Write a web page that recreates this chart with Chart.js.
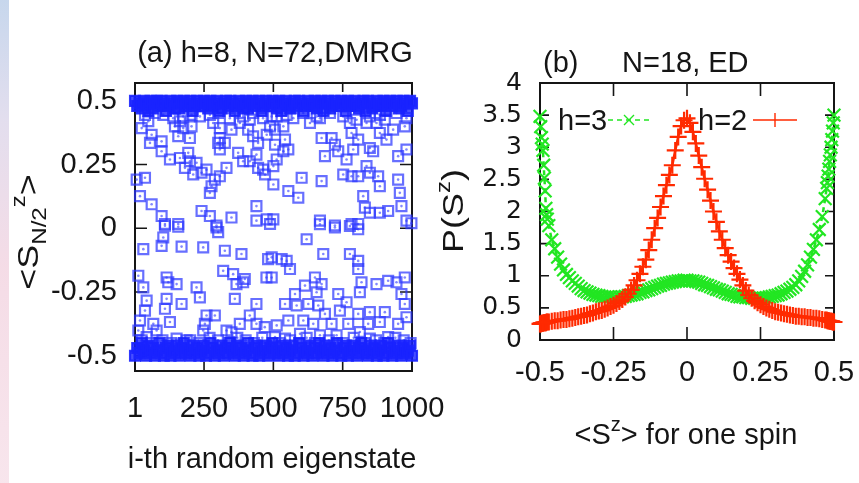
<!DOCTYPE html>
<html lang="en">
<head>
<meta charset="UTF-8">
<title>Sz distributions, DMRG and ED</title>
<script src="https://cdn.jsdelivr.net/npm/chart.js@4.4.1/dist/chart.umd.min.js"></script>
<style>
  body { margin: 0; background: #fff; }
  #wrap { position: relative; width: 859px; height: 483px; overflow: hidden; background: #fff; }
  #wrap canvas { position: absolute; top: 0; }
  #edge { position: absolute; left: 0; top: 0; width: 9px; height: 483px;
          background: linear-gradient(to bottom, #b9cde8 0%, #dcd6ea 25%, #f2d3e0 55%, #f6dfe8 100%); opacity: 0.8; }
</style>
</head>
<body>
<div id="wrap">
  <div id="edge"></div>
  <canvas id="panelA" width="470" height="483" style="left:0"></canvas>
  <canvas id="panelB" width="429" height="483" style="left:430px"></canvas>
</div>
<script>
// ---- panel (a): <S^z_{N/2}> of 1000 random eigenstates, h=8, N=72 ----
const stateTicks = [1, 250, 500, 750, 1000];
const szTicks = [-0.5, -0.25, 0, 0.25, 0.5];

// eigenstates sitting in the two saturated bands
const bandStates = [1,9,17,25,33,41,49,57,65,73,81,89,97,105,113,121,129,137,145,153,161,169,177,185,193,
  201,209,217,225,233,241,249,257,265,273,281,289,297,305,313,321,329,337,345,353,361,369,377,385,393,
  401,409,417,425,433,441,449,457,465,473,481,489,497,505,513,521,529,537,545,553,561,569,577,585,593,
  601,609,617,625,633,641,649,657,665,673,681,689,697,705,713,721,729,737,745,753,761,769,777,785,793,
  801,809,817,825,833,841,849,857,865,873,881,889,897,905,913,921,929,937,945,953,961,969,977,985,993,1000];
const upperBand = [
  0.50,0.48,0.49,0.47,0.50,0.49,0.46,0.50,0.47,0.49,
  0.50,0.48,0.50,0.49,0.46,0.48,0.50,0.49,0.47,0.50,
  0.47,0.49,0.50,0.48,0.49,0.50,0.46,0.48,0.50,0.49,
  0.48,0.50,0.49,0.47,0.50,0.48,0.49,0.50,0.46,0.47,
  0.49,0.50,0.48,0.50,0.49,0.46,0.48,0.50,0.49,0.47,
  0.50,0.47,0.49,0.50,0.48,0.49,0.50,0.46,0.48,0.50,
  0.49,0.48,0.50,0.49,0.47,0.50,0.46,0.49,0.50,0.48,
  0.47,0.49,0.50,0.48,0.50,0.49,0.46,0.48,0.50,0.49,
  0.48,0.50,0.47,0.49,0.50,0.46,0.49,0.50,0.47,0.48,
  0.50,0.49,0.48,0.50,0.49,0.46,0.50,0.48,0.49,0.50,
  0.48,0.47,0.49,0.50,0.46,0.50,0.49,0.47,0.48,0.50,
  0.49,0.48,0.50,0.46,0.49,0.50,0.48,0.49,0.50,0.47,
  0.48,0.50,0.49,0.46,0.50,0.49];
const lowerBand = [
  -0.50,-0.47,-0.49,-0.45,-0.48,-0.50,-0.46,-0.49,-0.47,-0.50,
  -0.48,-0.45,-0.49,-0.50,-0.47,-0.46,-0.50,-0.48,-0.49,-0.46,
  -0.50,-0.47,-0.45,-0.49,-0.48,-0.50,-0.46,-0.49,-0.47,-0.50,
  -0.48,-0.46,-0.50,-0.49,-0.45,-0.47,-0.50,-0.48,-0.49,-0.46,
  -0.50,-0.47,-0.49,-0.45,-0.48,-0.50,-0.46,-0.49,-0.47,-0.50,
  -0.48,-0.45,-0.49,-0.50,-0.47,-0.46,-0.50,-0.48,-0.49,-0.46,
  -0.50,-0.47,-0.45,-0.49,-0.48,-0.50,-0.46,-0.49,-0.47,-0.50,
  -0.48,-0.46,-0.50,-0.49,-0.45,-0.47,-0.50,-0.48,-0.49,-0.46,
  -0.50,-0.47,-0.49,-0.45,-0.48,-0.50,-0.46,-0.49,-0.47,-0.50,
  -0.48,-0.45,-0.49,-0.50,-0.47,-0.46,-0.50,-0.48,-0.49,-0.46,
  -0.50,-0.47,-0.45,-0.49,-0.48,-0.50,-0.46,-0.49,-0.47,-0.50,
  -0.48,-0.46,-0.50,-0.49,-0.45,-0.47,-0.50,-0.48,-0.49,-0.46,
  -0.50,-0.47,-0.49,-0.48,-0.46,-0.50];

// [eigenstate, <S^z_{N/2}>] for states away from the bands
const midStates = [
  [25,.393],[61,.367],[55,.335],[97,.341],[145,.400],[175,.393],[205,.400],[199,.354],[157,.361],[307,.393],
  [307,.354],[301,.335],[349,.387],[379,.413],[409,.387],[427,.361],[445,.335],[476,.367],[488,.400],[97,.302],
  [127,.270],[163,.276],[193,.296],[199,.263],[181,.237],[223,.257],[241,.218],[259,.230],[211,.211],[307,.309],
  [325,.335],[373,.296],[391,.263],[415,.263],[439,.289],[445,.237],[463,.230],[470,.211],[331,.237],[307,.204],
  [289,.191],[277,.165],[271,.139],[7,.191],[37,.198],[19,.126],[61,.094],[97,.048],[109,.017],[157,.017],
  [241,.068],[271,.048],[295,.011],[349,.042],[439,.087],[439,.030],[476,.035],[488,.017],
  [37,.445],[73,.452],[103,.445],[139,.432],[175,.439],[205,.445],[235,.439],[271,.445],[301,.452],[343,.432],
  [391,.439],[427,.452],[463,.432],[494,.439],[49,.420],[163,.420],[283,.413],[415,.426],
  [506,.387],[506,.328],[536,.400],[542,.348],[536,.302],[554,.309],[512,.270],[500,.244],[572,.432],[632,.413],
  [668,.432],[674,.354],[686,.283],[710,.354],[722,.328],[734,.302],[764,.270],[776,.413],[782,.374],[806,.348],
  [788,.309],[836,.413],[848,.315],[860,.302],[872,.413],[884,.374],[902,.426],[908,.348],[932,.387],[950,.283],
  [980,.309],[974,.400],[836,.244],[752,.211],[782,.204],[806,.204],[848,.218],[878,.204],[884,.165],[950,.191],
  [956,.139],[962,.087],[824,.126],[830,.081],[848,.061],[884,.061],[914,.068],[602,.198],[674,.185],[500,.172],
  [554,.146],[590,.120],[668,.030],[722,.011],[782,.017],[806,.017],[500,.035],[980,.030],[998,.020],
  [512,.439],[548,.445],[608,.452],[656,.439],[704,.452],[752,.439],[800,.426],[848,.439],[884,.445],[944,.452],[980,.432],
  [109,.010],[157,.006],[103,-.036],[97,-.069],[31,-.082],[169,-.072],[247,-.075],[295,.003],[301,-.015],[325,-.088],
  [385,-.101],[481,-.121],[13,-.186],[31,-.232],[115,-.193],[121,-.212],[151,-.219],[223,-.232],[235,-.271],[169,-.297],
  [319,-.167],[355,-.180],[367,-.219],[397,-.199],[391,-.212],[475,-.193],[361,-.277],[439,-.297],[43,-.284],[37,-.323],
  [115,-.277],[109,-.316],[127,-.368],[259,-.342],[289,-.342],[253,-.375],[247,-.401],[331,-.401],[349,-.408],[379,-.375],
  [415,-.342],[439,-.375],[469,-.388],[19,-.362],[67,-.375],[79,-.401],[151,-.433],[187,-.440],[13,-.401],[43,-.427],
  [668,.016],[722,.003],[776,.009],[806,-.004],[620,-.043],[680,-.101],[776,-.101],[806,-.128],[494,-.114],[530,-.121],
  [548,-.128],[560,-.160],[494,-.193],[614,-.225],[650,-.193],[674,-.219],[656,-.251],[806,-.160],[818,-.212],[812,-.251],
  [872,-.219],[914,-.206],[944,-.212],[974,-.193],[962,-.258],[974,-.297],[578,-.258],[542,-.297],[584,-.303],[626,-.297],
  [662,-.303],[734,-.258],[764,-.290],[740,-.323],[686,-.336],[806,-.336],[848,-.329],[902,-.329],[950,-.375],[980,-.349],
  [512,-.381],[554,-.362],[608,-.362],[644,-.375],[710,-.375],[770,-.375],[812,-.407],[842,-.375],[884,-.368],[506,-.427],
  [542,-.433],[596,-.414],[668,-.420],[728,-.420],[848,-.433],[914,-.427],
  [25,-.44],[61,-.45],[100,-.44],[130,-.45],[200,-.44],[230,-.45],[270,-.43],[300,-.44],[340,-.45],[370,-.43],
  [400,-.44],[430,-.45],[460,-.43],[520,-.45],[560,-.44],[620,-.43],[650,-.45],[700,-.44],[750,-.45],[790,-.43],
  [830,-.45],[870,-.44],[900,-.45],[940,-.43],[970,-.44],[995,-.45]];

// ---- panel (b): single-spin <S^z> distribution, N=18, ED ----
const spinTicks = [-0.5, -0.25, 0, 0.25, 0.5];
const probTicks = [0, 0.5, 1, 1.5, 2, 2.5, 3, 3.5, 4];
const spinBins = [-0.50,-0.4975,-0.495,-0.4925,-0.49,-0.4875,-0.485,-0.4825,-0.48,-0.4775,-0.475,
  -0.47,-0.46,-0.45,-0.44,-0.43,-0.42,-0.41,
  -0.40,-0.39,-0.38,-0.37,-0.36,-0.35,-0.34,-0.33,-0.32,-0.31,
  -0.30,-0.29,-0.28,-0.27,-0.26,-0.25,-0.24,-0.23,-0.22,-0.21,
  -0.20,-0.19,-0.18,-0.17,-0.16,-0.15,-0.14,-0.13,-0.12,-0.11,
  -0.10,-0.09,-0.08,-0.07,-0.06,-0.05,-0.04,-0.03,-0.02,-0.01,
  0.00,0.01,0.02,0.03,0.04,0.05,0.06,0.07,0.08,0.09,
  0.10,0.11,0.12,0.13,0.14,0.15,0.16,0.17,0.18,0.19,
  0.20,0.21,0.22,0.23,0.24,0.25,0.26,0.27,0.28,0.29,
  0.30,0.31,0.32,0.33,0.34,0.35,0.36,0.37,0.38,0.39,
  0.40,0.41,0.42,0.43,0.44,0.45,0.46,0.47,
  0.475,0.4775,0.48,0.4825,0.485,0.4875,0.49,0.4925,0.495,0.4975,0.50];
const probH2 = [0.25,0.25,0.26,0.26,0.26,0.27,0.27,0.27,0.27,0.28,0.28,
  0.28,0.29,0.30,0.30,0.31,0.32,0.32,
  0.33,0.34,0.35,0.36,0.37,0.38,0.39,0.41,0.42,0.44,
  0.45,0.46,0.48,0.50,0.52,0.54,0.57,0.60,0.63,0.67,
  0.72,0.78,0.85,0.93,1.03,1.14,1.25,1.40,1.56,1.74,
  1.90,2.07,2.24,2.41,2.57,2.72,2.95,3.16,3.33,3.42,
  3.45,3.38,3.24,3.06,2.87,2.69,2.51,2.34,2.17,2.00,
  1.84,1.69,1.56,1.43,1.32,1.22,1.12,1.03,0.94,0.85,
  0.77,0.70,0.65,0.61,0.58,0.55,0.52,0.50,0.48,0.46,
  0.44,0.43,0.42,0.41,0.40,0.39,0.38,0.37,0.37,0.36,
  0.36,0.35,0.35,0.34,0.34,0.33,0.32,0.31,
  0.31,0.30,0.30,0.30,0.29,0.29,0.29,0.29,0.28,0.28,0.28];
const probH3 = [3.48,3.32,3.15,3.05,2.95,2.72,2.52,2.32,2.05,1.95,1.88,
  1.78,1.56,1.42,1.29,1.18,1.09,1.02,
  0.97,0.92,0.88,0.84,0.80,0.77,0.75,0.73,0.71,0.70,
  0.69,0.68,0.67,0.67,0.67,0.66,0.66,0.67,0.67,0.68,
  0.69,0.70,0.71,0.72,0.74,0.75,0.77,0.78,0.80,0.82,
  0.84,0.85,0.87,0.88,0.89,0.90,0.91,0.92,0.92,0.93,
  0.93,0.92,0.92,0.91,0.90,0.88,0.86,0.85,0.83,0.81,
  0.79,0.78,0.76,0.74,0.72,0.71,0.70,0.68,0.67,0.67,
  0.66,0.66,0.65,0.65,0.65,0.65,0.65,0.66,0.67,0.68,
  0.69,0.70,0.72,0.74,0.76,0.79,0.82,0.86,0.92,0.99,
  1.07,1.17,1.29,1.41,1.56,1.72,1.92,2.20,
  2.36,2.45,2.55,2.66,2.78,2.88,3.00,3.12,3.25,3.38,3.50];

const INK = '#151515';
const FONT = 'Liberation Sans';
const BLUE = 'rgba(25,35,255,0.9)';
const RED = '#ff2a00';
const GREEN = '#22e622';

Chart.defaults.font.family = FONT;
Chart.defaults.color = INK;

// text runs: [string, size, baseline shift]
function richText(ctx, parts, x, y, align) {
  let w = 0;
  parts.forEach(p => { ctx.font = p[1] + 'px "' + FONT + '"'; w += ctx.measureText(p[0]).width; });
  let cx = align === 'center' ? x - w / 2 : x;
  parts.forEach(p => {
    ctx.font = p[1] + 'px "' + FONT + '"';
    ctx.fillText(p[0], cx, y + p[2]);
    cx += ctx.measureText(p[0]).width;
  });
}

function rotatedText(ctx, parts, x, y, stretch) {
  ctx.save();
  ctx.translate(x, y);
  ctx.rotate(-Math.PI / 2);
  ctx.scale(stretch, 1);
  richText(ctx, parts, 0, 0, 'center');
  ctx.restore();
}

// gnuplot-style box with inward ticks on all four sides
function boxPlugin(xLen, yLen) {
  return {
    id: 'box',
    beforeDatasetsDraw(chart) {
      const { ctx, chartArea: a, scales } = chart;
      ctx.save();
      ctx.strokeStyle = INK;
      ctx.lineWidth = 2;
      ctx.strokeRect(a.left, a.top, a.right - a.left, a.bottom - a.top);
      ctx.lineWidth = 1.6;
      ctx.beginPath();
      scales.x.ticks.forEach(t => {
        const px = scales.x.getPixelForValue(t.value);
        if (px < a.left + 2 || px > a.right - 2) return;
        ctx.moveTo(px, a.bottom); ctx.lineTo(px, a.bottom - xLen);
        ctx.moveTo(px, a.top); ctx.lineTo(px, a.top + xLen);
      });
      scales.y.ticks.forEach(t => {
        const py = scales.y.getPixelForValue(t.value);
        if (py < a.top + 2 || py > a.bottom - 2) return;
        ctx.moveTo(a.left, py); ctx.lineTo(a.left + yLen, py);
        ctx.moveTo(a.right, py); ctx.lineTo(a.right - yLen, py);
      });
      ctx.stroke();
      ctx.restore();
    }
  };
}

function fixedTicks(values) {
  return s => { s.ticks = values.map(v => ({ value: v })); };
}

const pts = (xs, ys) => xs.map((x, k) => ({ x: x, y: ys[k] }));

// ---------- panel (a) ----------
const textA = {
  id: 'textA',
  afterDraw(chart) {
    const ctx = chart.ctx;
    ctx.save();
    ctx.fillStyle = INK;
    ctx.textBaseline = 'alphabetic';
    richText(ctx, [['(a) h=8, N=72,DMRG', 29, 0]], 275, 62, 'center');
    richText(ctx, [['i-th random eigenstate', 29, 0]], 272, 468, 'center');
    rotatedText(ctx, [['<S', 30, 0], ['N/2', 20, 8], ['z', 20, -13], ['>', 30, 0]], 38, 232, 1.2);
    ctx.restore();
  }
};

const bandStyle = {
  pointStyle: 'rect',
  pointRadius: 7,
  pointBorderWidth: 2.2,
  pointBorderColor: BLUE,
  pointBackgroundColor: 'rgba(25,35,255,0.8)',
  clip: false
};
const openSquare = {
  pointStyle: 'rect',
  pointRadius: 7,
  pointBorderWidth: 2.2,
  pointBorderColor: 'rgba(45,55,255,0.72)',
  pointBackgroundColor: 'rgba(0,0,0,0)',
  clip: false
};

new Chart(document.getElementById('panelA'), {
  type: 'scatter',
  data: {
    datasets: [
      Object.assign({ label: 'upper', data: pts(bandStates, upperBand) }, bandStyle),
      Object.assign({ label: 'lower', data: pts(bandStates, lowerBand) }, bandStyle),
      Object.assign({ label: 'mid', data: midStates.map(p => ({ x: p[0], y: p[1] })) }, openSquare),
      { label: 'dots', data: midStates.map(p => ({ x: p[0], y: p[1] })), pointStyle: 'circle',
        pointRadius: 1.3, pointBorderWidth: 0, pointBackgroundColor: 'rgba(45,55,255,0.6)', clip: false }
    ]
  },
  options: {
    responsive: false,
    animation: false,
    events: [],
    layout: { padding: { top: 83, right: 58, left: 0, bottom: 0 } },
    plugins: { legend: { display: false }, tooltip: { enabled: false } },
    scales: {
      x: {
        type: 'linear', min: 1, max: 1000,
        afterBuildTicks: fixedTicks(stateTicks),
        afterFit: s => { s.height = 112; s.paddingLeft = 0; s.paddingRight = 0; },
        grid: { display: false, drawTicks: false },
        border: { display: false },
        ticks: { autoSkip: false, maxRotation: 0, padding: 21, color: INK,
                 font: { size: 29 }, callback: v => String(v) }
      },
      y: {
        type: 'linear', min: -0.56, max: 0.57,
        afterBuildTicks: fixedTicks(szTicks),
        afterFit: s => { s.width = 135; s.paddingTop = 0; s.paddingBottom = 0; },
        grid: { display: false, drawTicks: false },
        border: { display: false },
        ticks: { autoSkip: false, padding: 18, color: INK,
                 font: { size: 29 }, callback: v => String(v) }
      }
    }
  },
  plugins: [boxPlugin(9, 12), textA]
});

// ---------- panel (b) ----------
const textB = {
  id: 'textB',
  afterDraw(chart) {
    const ctx = chart.ctx;
    ctx.save();
    ctx.fillStyle = INK;
    ctx.textBaseline = 'alphabetic';
    richText(ctx, [['(b)', 29, 0]], 113, 72, 'left');
    richText(ctx, [['N=18, ED', 29, 0]], 192, 72, 'left');
    richText(ctx, [['<S', 29, 0], ['z', 20, -13], ['> for one spin', 29, 0]], 256, 444, 'center');
    rotatedText(ctx, [['P(S', 30, 0], ['z', 20, -13], [')', 30, 0]], 33, 211, 1.2);

    // key, text first then sample, as gnuplot does
    richText(ctx, [['h=3', 29, 0]], 128, 130, 'left');
    richText(ctx, [['h=2', 29, 0]], 268, 130, 'left');
    ctx.lineWidth = 1.4;
    ctx.strokeStyle = GREEN;
    ctx.setLineDash([5, 4]);
    ctx.beginPath(); ctx.moveTo(178, 120); ctx.lineTo(220, 120); ctx.stroke();
    ctx.setLineDash([]);
    ctx.beginPath();
    ctx.moveTo(194, 115); ctx.lineTo(204, 125); ctx.moveTo(194, 125); ctx.lineTo(204, 115);
    ctx.stroke();
    ctx.strokeStyle = RED;
    ctx.beginPath();
    ctx.moveTo(323, 120); ctx.lineTo(367, 120);
    ctx.moveTo(345, 113); ctx.lineTo(345, 127);
    ctx.stroke();
    ctx.restore();
  }
};

new Chart(document.getElementById('panelB'), {
  type: 'scatter',
  data: {
    datasets: [
      { label: 'h=2', data: pts(spinBins, probH2), showLine: true,
        borderColor: RED, borderWidth: 2.5, pointStyle: 'cross', pointRadius: 8.5,
        pointBorderColor: RED, pointBorderWidth: 2.2, clip: false },
      { label: 'h=3', data: pts(spinBins, probH3), showLine: true,
        borderColor: GREEN, borderWidth: 2.5, borderDash: [5, 4], pointStyle: 'crossRot', pointRadius: 9,
        pointBorderColor: GREEN, pointBorderWidth: 2.2, clip: false }
    ]
  },
  options: {
    responsive: false,
    animation: false,
    events: [],
    layout: { padding: { top: 83, right: 25, left: 0, bottom: 0 } },
    plugins: { legend: { display: false }, tooltip: { enabled: false } },
    scales: {
      x: {
        type: 'linear', min: -0.5, max: 0.5,
        afterBuildTicks: fixedTicks(spinTicks),
        afterFit: s => { s.height = 143; s.paddingLeft = 0; s.paddingRight = 0; },
        grid: { display: false, drawTicks: false },
        border: { display: false },
        ticks: { autoSkip: false, maxRotation: 0, padding: 16, color: INK,
                 font: { size: 29 }, callback: v => String(v) }
      },
      y: {
        type: 'linear', min: 0, max: 4,
        afterBuildTicks: fixedTicks(probTicks),
        afterFit: s => { s.width = 110; s.paddingTop = 0; s.paddingBottom = 0; },
        grid: { display: false, drawTicks: false },
        border: { display: false },
        ticks: { autoSkip: false, padding: 18, color: INK,
                 font: { family: 'DejaVu Sans', size: 25 }, callback: v => String(v) }
      }
    }
  },
  plugins: [boxPlugin(13, 9), textB]
});
</script>
</body>
</html>
